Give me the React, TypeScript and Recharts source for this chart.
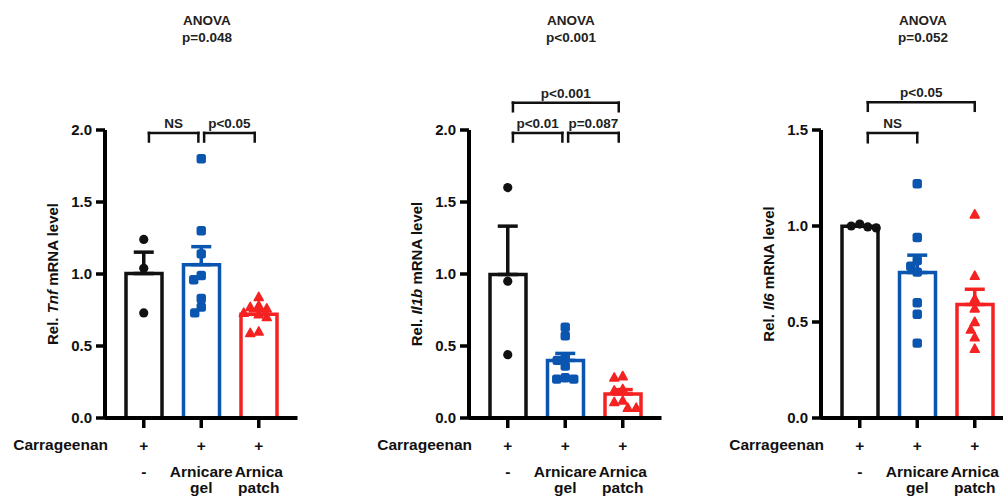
import React from 'react';
import {
  ComposedChart,
  Bar,
  Cell,
  Scatter,
  ErrorBar,
  XAxis,
  YAxis,
  ReferenceLine
} from 'recharts';

// groups along the x axis (second + third label row)
const groups = ['-', 'Arnicare gel', 'Arnica patch'];
const colors = ['#111111', '#0a55b0', '#f52222'];

// Tnf
const tnfVehicle = [1.24, 1.04, 0.73];
const tnfGel = [1.8, 1.3, 1.14, 0.99, 0.96, 0.83, 0.77, 0.73];
const tnfPatch = [0.84, 0.78, 0.77, 0.76, 0.73, 0.72, 0.7, 0.6, 0.59];

// Il1b
const il1bVehicle = [1.6, 0.95, 0.44];
const il1bGel = [0.63, 0.57, 0.42, 0.4, 0.36, 0.28, 0.27, 0.27];
const il1bPatch = [0.29, 0.28, 0.2, 0.19, 0.12, 0.11, 0.07, 0.07];

// Il6
const il6Vehicle = [1.01, 1.0, 0.995, 0.99];
const il6Gel = [1.22, 0.94, 0.82, 0.79, 0.76, 0.6, 0.54, 0.39];
const il6Patch = [1.06, 0.74, 0.62, 0.57, 0.5, 0.46, 0.42, 0.36];

const anovaLabels = ['p=0.048', 'p<0.001', 'p=0.052'];

interface Bracket {
  from: number;
  to: number;
  y: number;
  leg: number;
  label: string;
}

const tnfBrackets: Bracket[] = [
  { from: 0.09, to: 0.95, y: 1.98, leg: 1.92, label: 'NS' },
  { from: 1.05, to: 1.93, y: 1.98, leg: 1.92, label: 'p<0.05' }
];
const il1bBrackets: Bracket[] = [
  { from: 0.09, to: 0.95, y: 1.98, leg: 1.92, label: 'p<0.01' },
  { from: 1.05, to: 1.93, y: 1.98, leg: 1.92, label: 'p=0.087' },
  { from: 0.09, to: 1.93, y: 2.19, leg: 2.13, label: 'p<0.001' }
];
const il6Brackets: Bracket[] = [
  { from: 0.14, to: 1.0, y: 1.484, leg: 1.436, label: 'NS' },
  { from: 0.14, to: 2.0, y: 1.645, leg: 1.6, label: 'p<0.05' }
];

const FONT = '"Liberation Sans", Arial, Helvetica, sans-serif';
const PLOT_H = 288;
const BAND = 57.5;

const mean = (a: number[]) => a.reduce((s, v) => s + v, 0) / a.length;
const sem = (a: number[]) => {
  const m = mean(a);
  const sd = Math.sqrt(a.reduce((s, v) => s + (v - m) ** 2, 0) / (a.length - 1));
  return sd / Math.sqrt(a.length);
};

// simple beeswarm: push dots sideways until they stop overlapping
function swarm(values: number[], pxPerUnit: number, d = 8.5) {
  const placed: { py: number; dx: number }[] = [];
  return values.map(v => {
    const py = v * pxPerUnit;
    let dx = 0;
    for (let k = 0; k < 400; k++) {
      const cand = (k % 2 === 0 ? 1 : -1) * Math.ceil(k / 2) * 0.5;
      if (placed.every(p => Math.hypot(cand - p.dx, py - p.py) >= d)) {
        dx = cand;
        break;
      }
    }
    placed.push({ py, dx });
    return dx / BAND;
  });
}

const Circle = (props: any) => <circle cx={props.cx} cy={props.cy} r={4.6} fill={colors[0]} />;
const Square = (props: any) => (
  <rect x={props.cx - 4.7} y={props.cy - 4.7} width={9.4} height={9.4} rx={2.5} fill={colors[1]} />
);
const Triangle = (props: any) => {
  const { cx, cy } = props;
  return (
    <path
      d={`M${cx},${cy - 4.8} L${cx + 4.5},${cy + 3.4} L${cx - 4.5},${cy + 3.4} Z`}
      fill={colors[2]}
      stroke={colors[2]}
      strokeWidth={1.5}
      strokeLinejoin="round"
    />
  );
};
const shapes = [Circle, Square, Triangle];
const Empty = () => <g />;

interface PanelProps {
  left: number;
  gene: string;
  sets: number[][];
  yMax: number;
  ticks: number[];
  brackets: Bracket[];
  anova: string;
}

const Panel: React.FC<PanelProps> = ({ left, gene, sets, yMax, ticks, brackets, anova }) => {
  const axisX = 105;
  const data = groups.map((name, i) => ({ name, mean: mean(sets[i]) }));
  const pxPerUnit = PLOT_H / yMax;

  const renderTick = (p: any) => {
    const { x, y, payload, index } = p;
    const words = String(payload.value).split(' ');
    const style = { fontFamily: FONT, fontWeight: 700, fill: '#111' };
    return (
      <g>
        {index === 0 && (
          <text x={axisX + 3} y={y + 22} textAnchor="end" fontSize={15.5} {...style}>
            Carrageenan
          </text>
        )}
        <text x={x} y={y + 22.5} textAnchor="middle" fontSize={15.5} {...style}>+</text>
        <text x={x} y={y + 49} textAnchor="middle" fontSize={15.5} {...style}>{words[0]}</text>
        {words[1] && (
          <text x={x} y={y + 65} textAnchor="middle" fontSize={15.5} {...style}>{words[1]}</text>
        )}
      </g>
    );
  };

  const renderYLabel = (p: any) => {
    const vb = p.viewBox || { x: 45, y: 130, width: 60, height: PLOT_H };
    const cx = vb.x + vb.width - 53;
    const cy = vb.y + vb.height / 2;
    return (
      <text
        x={cx}
        y={cy}
        transform={`rotate(-90 ${cx} ${cy})`}
        textAnchor="middle"
        dominantBaseline="central"
        fontFamily={FONT}
        fontWeight={700}
        fontSize={15}
        fill="#111"
      >
        Rel. <tspan fontStyle="italic">{gene}</tspan> mRNA level
      </text>
    );
  };

  return (
    <div style={{ position: 'absolute', left, top: 0 }}>
      <div
        style={{
          position: 'absolute',
          left: axisX + 102 - 70,
          top: 12,
          width: 140,
          textAlign: 'center',
          fontFamily: FONT,
          fontWeight: 700,
          fontSize: 13.5,
          lineHeight: '17px',
          color: '#222'
        }}
      >
        ANOVA
        <br />
        {anova}
      </div>
      <ComposedChart
        width={340}
        height={497}
        data={data}
        margin={{ top: 130, right: 42.5, bottom: 0, left: 45 }}
        style={{ overflow: 'visible' }}
      >
        <XAxis
          xAxisId="c"
          dataKey="name"
          type="category"
          padding={{ left: 10, right: 10 }}
          axisLine={{ stroke: '#000', strokeWidth: 4 }}
          tickLine={{ stroke: '#000', strokeWidth: 3.5 }}
          tickSize={10}
          tickMargin={0}
          interval={0}
          tick={renderTick}
          height={79}
        />
        <XAxis
          xAxisId="n"
          dataKey="x"
          type="number"
          domain={[-0.5, 2.5]}
          padding={{ left: 10, right: 10 }}
          allowDataOverflow
          hide
        />
        <YAxis
          width={60}
          domain={[0, yMax]}
          ticks={ticks}
          allowDataOverflow
          tickFormatter={(v: number) => v.toFixed(1)}
          axisLine={{ stroke: '#000', strokeWidth: 4 }}
          tickLine={{ stroke: '#000', strokeWidth: 3.5 }}
          tickSize={9}
          tickMargin={4}
          tick={{ fontFamily: FONT, fontWeight: 700, fontSize: 15, fill: '#111' }}
          label={{ content: renderYLabel }}
        />
        <Bar xAxisId="c" dataKey="mean" barSize={36} isAnimationActive={false}>
          {data.map((d, i) => (
            <Cell key={d.name} fill="#fff" stroke={colors[i]} strokeWidth={3.5} />
          ))}
        </Bar>
        {sets.map((s, i) => (
          <Scatter
            key={`err-${i}`}
            xAxisId="n"
            dataKey="y"
            data={[{ x: i, y: mean(s), err: [0, sem(s)] }]}
            shape={Empty}
            isAnimationActive={false}
          >
            <ErrorBar dataKey="err" direction="y" width={10} stroke={colors[i]} strokeWidth={3.5} />
          </Scatter>
        ))}
        {sets.map((s, i) => {
          const offs = swarm(s, pxPerUnit);
          return (
            <Scatter
              key={`pts-${i}`}
              xAxisId="n"
              dataKey="y"
              data={s.map((v, j) => ({ x: i + offs[j], y: v }))}
              shape={shapes[i]}
              isAnimationActive={false}
            />
          );
        })}
        {brackets.map((b, k) => (
          <ReferenceLine
            key={`bh-${k}`}
            xAxisId="n"
            segment={[{ x: b.from, y: b.y }, { x: b.to, y: b.y }]}
            ifOverflow="visible"
            stroke="#111"
            strokeWidth={2.5}
            strokeLinecap="square"
            label={{
              value: b.label,
              position: 'top',
              offset: 5,
              fill: '#222',
              fontSize: 13.5,
              fontWeight: 700,
              fontFamily: FONT
            }}
          />
        ))}
        {brackets.map((b, k) => (
          <ReferenceLine
            key={`bl-${k}`}
            xAxisId="n"
            segment={[{ x: b.from, y: b.y }, { x: b.from, y: b.leg }]}
            ifOverflow="visible"
            stroke="#111"
            strokeWidth={2.5}
            strokeLinecap="square"
          />
        ))}
        {brackets.map((b, k) => (
          <ReferenceLine
            key={`br-${k}`}
            xAxisId="n"
            segment={[{ x: b.to, y: b.y }, { x: b.to, y: b.leg }]}
            ifOverflow="visible"
            stroke="#111"
            strokeWidth={2.5}
            strokeLinecap="square"
          />
        ))}
      </ComposedChart>
    </div>
  );
}

export default function App() {
  return (
    <div
      style={{
        position: 'absolute',
        left: 0,
        top: 0,
        width: 1003,
        height: 497,
        overflow: 'hidden',
        background: '#fff'
      }}
    >
      <Panel
        left={0}
        gene="Tnf"
        sets={[tnfVehicle, tnfGel, tnfPatch]}
        yMax={2}
        ticks={[0, 0.5, 1, 1.5, 2]}
        brackets={tnfBrackets}
        anova={anovaLabels[0]}
      />
      <Panel
        left={364}
        gene="Il1b"
        sets={[il1bVehicle, il1bGel, il1bPatch]}
        yMax={2}
        ticks={[0, 0.5, 1, 1.5, 2]}
        brackets={il1bBrackets}
        anova={anovaLabels[1]}
      />
      <Panel
        left={716}
        gene="Il6"
        sets={[il6Vehicle, il6Gel, il6Patch]}
        yMax={1.5}
        ticks={[0, 0.5, 1, 1.5]}
        brackets={il6Brackets}
        anova={anovaLabels[2]}
      />
    </div>
  );
}
